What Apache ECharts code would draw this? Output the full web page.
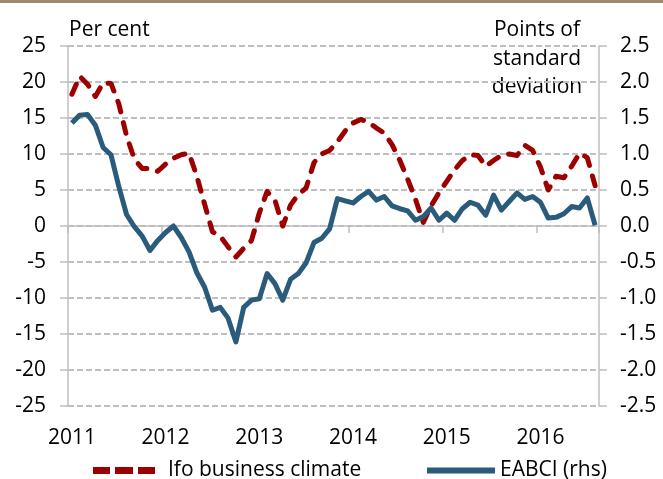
<!DOCTYPE html>
<html>
<head>
<meta charset="utf-8">
<script src="https://cdn.jsdelivr.net/npm/echarts@6/dist/echarts.min.js"></script>
<style>
  html, body { margin: 0; padding: 0; background: #fff; }
  #chart { width: 663px; height: 479px; }
</style>
</head>
<body>
<div id="chart"></div>
<script>
// monthly, Jan 2011 - Aug 2016
const years = ['2011', '2012', '2013', '2014', '2015', '2016'];
const monthCount = 68;

// Ifo business climate, per cent (lhs)
const ifo = [
  18.3, 20.8, 19.7, 18.0, 19.9, 19.8, 17.0, 12.5, 9.3, 8.0, 8.0, 7.6,
  8.6, 9.4, 9.9, 10.1, 6.9, 3.0, -0.8, -1.4, -2.9, -4.3, -3.1, -2.0,
  1.8, 4.8, 3.6, 0.0, 2.9, 4.4, 5.3, 8.8, 10.0, 10.5, 11.7, 13.2,
  14.3, 14.8, 14.4, 13.6, 12.9, 11.3, 9.1, 6.5, 3.7, 0.5, 2.8, 4.6,
  6.2, 7.8, 9.1, 9.9, 9.8, 8.3, 9.1, 9.8, 10.0, 9.8, 11.2, 10.5,
  8.2, 5.0, 6.9, 6.7, 8.3, 10.1, 9.5, 5.6
];

// EABCI, points of standard deviation (rhs)
const eabci = [
  1.43, 1.54, 1.55, 1.40, 1.09, 0.99, 0.55, 0.16, -0.01, -0.14, -0.34, -0.20,
  -0.09, 0.00, -0.16, -0.36, -0.65, -0.85, -1.17, -1.13, -1.28, -1.61, -1.13, -1.03,
  -1.01, -0.66, -0.80, -1.03, -0.74, -0.66, -0.51, -0.23, -0.17, -0.04, 0.38, 0.35,
  0.32, 0.41, 0.48, 0.36, 0.41, 0.28, 0.24, 0.21, 0.08, 0.13, 0.25, 0.08,
  0.18, 0.08, 0.24, 0.33, 0.29, 0.15, 0.43, 0.22, 0.34, 0.46, 0.37, 0.41,
  0.33, 0.11, 0.12, 0.17, 0.27, 0.25, 0.39, 0.01
];

const months = [];
years.forEach(y => {
  for (let m = 1; m <= 12; m++) {
    if (months.length < monthCount) months.push(y + '-' + m);
  }
});

const red = '#9c0000';
const blue = '#2b5b7c';
const grey = '#bfbfbf';
const font = '"Open Sans", sans-serif';

const chart = echarts.init(document.getElementById('chart'));
chart.setOption({
  animation: false,
  textStyle: { fontFamily: font },
  grid: { left: 68, right: 64, top: 46, bottom: 73 },
  graphic: [
    { type: 'rect', shape: { x: 0, y: 0, width: 663, height: 3 }, style: { fill: '#9e8a6c' } },
    { type: 'text', x: 69, y: 30,
      style: { text: 'Per cent', font: '21px ' + font, fill: '#000', verticalAlign: 'middle' } },
    { type: 'text', x: 537, y: 16,
      style: { text: 'Points of\nstandard\ndeviation', font: '21px ' + font, fill: '#000',
               align: 'center', verticalAlign: 'top', lineHeight: 28.5 } }
  ],
  legend: [
    { data: [{ name: 'Ifo business climate',
               icon: 'path://M0,0h17v7h-17zM22,0h18v7h-18zM45,0h17v7h-17z' }],
      left: 88, top: 455, itemWidth: 62, itemHeight: 7,
      textStyle: { fontSize: 21, color: '#000', padding: [0, 0, 0, 8] } },
    { data: [{ name: 'EABCI (rhs)', icon: 'path://M0,0h68v6h-68z' }],
      left: 422, top: 455, itemWidth: 68, itemHeight: 6,
      textStyle: { fontSize: 21, color: '#000' } }
  ],
  xAxis: [
    { // line at zero with year ticks
      type: 'category', data: months, boundaryGap: true, position: 'top',
      axisLine: { onZero: true, lineStyle: { color: grey, width: 1.5 } },
      axisTick: { show: true, inside: true, interval: 11, length: 7, lineStyle: { color: grey, width: 1.5 } },
      axisLabel: { show: false },
      splitLine: { show: false }
    },
    { // year labels at the bottom
      type: 'category', data: months, boundaryGap: true, position: 'bottom',
      axisLine: { show: false, onZero: false },
      axisTick: { show: false },
      axisLabel: { interval: 11, margin: 22, fontSize: 21, color: '#000',
                   formatter: v => v.slice(0, 4) },
      splitLine: { show: false }
    }
  ],
  yAxis: [
    {
      type: 'value', min: -25, max: 25, interval: 5, position: 'left',
      axisLine: { show: true, lineStyle: { color: grey, width: 1.5 } },
      axisTick: { show: true, length: 8, lineStyle: { color: grey, width: 1.5 } },
      axisLabel: { margin: 22, fontSize: 21, color: '#000' },
      splitLine: { show: true, lineStyle: { color: grey, width: 2, type: [6, 3] } }
    },
    {
      type: 'value', min: -2.5, max: 2.5, interval: 0.5, position: 'right',
      axisLine: { show: true, lineStyle: { color: grey, width: 1.5 } },
      axisTick: { show: true, length: 8, lineStyle: { color: grey, width: 1.5 } },
      axisLabel: { margin: 21, fontSize: 21, color: '#000',
                   formatter: v => (Math.abs(v) < 1e-9 ? 0 : v).toFixed(1) },
      splitLine: { show: false }
    }
  ],
  series: [
    {
      name: 'Ifo business climate', type: 'line', xAxisIndex: 1, yAxisIndex: 0,
      data: ifo, symbol: 'none',
      lineStyle: { color: red, width: 5, type: [11, 11], cap: 'round', join: 'round' },
      itemStyle: { color: red }
    },
    {
      name: 'EABCI (rhs)', type: 'line', xAxisIndex: 1, yAxisIndex: 1,
      data: eabci, symbol: 'none',
      lineStyle: { color: blue, width: 5, join: 'round' },
      itemStyle: { color: blue }
    }
  ]
});
</script>
</body>
</html>
